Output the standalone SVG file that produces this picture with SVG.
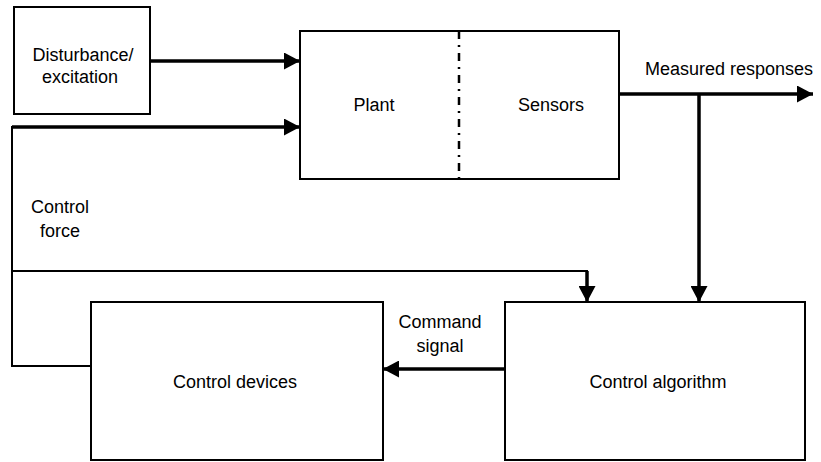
<svg xmlns="http://www.w3.org/2000/svg" width="821" height="462" viewBox="0 0 821 462">
<style>
.box{fill:#fff;stroke:#000;stroke-width:2}
.t{font-family:"Liberation Sans",Arial,sans-serif;font-size:18px;fill:#000;text-anchor:middle}
.c{fill:none;stroke:#000;stroke-width:3.5}
.thin{fill:none;stroke:#000;stroke-width:2}
</style>
<defs>
<marker id="ah" markerUnits="userSpaceOnUse" markerWidth="17" markerHeight="17" refX="16" refY="8.5" orient="auto" viewBox="0 0 17 17">
<path d="M0,0 L16,8.5 L0,17 z" fill="#000"/>
</marker>
</defs>
<g id="disturbance">
<rect class="box" x="14" y="7" width="136" height="107"/>
<text class="t" x="83" y="61">Disturbance/</text>
<text class="t" x="80" y="83">excitation</text>
</g>
<g id="plant">
<rect class="box" x="300" y="31" width="319" height="148"/>
<line x1="459" y1="31" x2="459" y2="179" stroke="#000" stroke-width="2.5" stroke-dasharray="8 6 2 6"/>
<text class="t" x="374" y="111">Plant</text>
<text class="t" x="551" y="111">Sensors</text>
</g>
<g id="control-devices">
<rect class="box" x="91" y="302" width="292" height="158"/>
<text class="t" x="235" y="388">Control devices</text>
</g>
<g id="control-algorithm">
<rect class="box" x="505" y="302" width="300" height="158"/>
<text class="t" x="658" y="388">Control algorithm</text>
</g>
<g id="connectors">
<line class="c" x1="150" y1="61" x2="300" y2="61" marker-end="url(#ah)"/>
<polyline class="thin" points="91,366 12,366 12,127 290,127"/>
<line class="c" x1="12" y1="127" x2="300" y2="127" marker-end="url(#ah)"/>
<polyline class="thin" points="12,271 587,271 587,285"/>
<line class="c" x1="587" y1="271" x2="587" y2="302" marker-end="url(#ah)"/>
<line class="c" x1="619" y1="94" x2="813" y2="94" marker-end="url(#ah)"/>
<line class="c" x1="699" y1="94" x2="699" y2="302" marker-end="url(#ah)"/>
<line class="c" x1="505" y1="369" x2="383" y2="369" marker-end="url(#ah)"/>
</g>
<g id="labels">
<text class="t" x="729" y="75">Measured responses</text>
<text class="t" x="60" y="213">Control</text>
<text class="t" x="60" y="237">force</text>
<text class="t" x="440" y="328">Command</text>
<text class="t" x="440" y="352">signal</text>
</g>
</svg>
